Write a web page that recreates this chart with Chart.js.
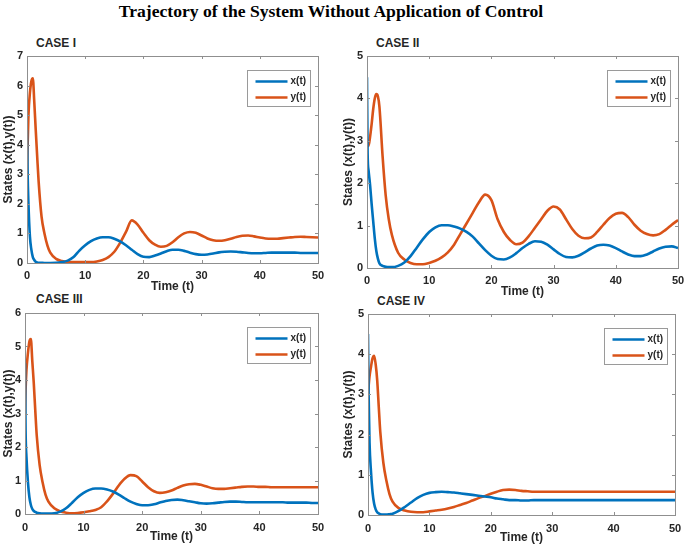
<!DOCTYPE html>
<html>
<head>
<meta charset="utf-8">
<script src="https://cdn.jsdelivr.net/npm/chart.js@4.4.0/dist/chart.umd.min.js"></script>
<style>
  body { margin: 0; background: #fff; }
  #page { position: relative; width: 685px; height: 546px; overflow: hidden; }
  canvas { position: absolute; }
  .title { position: absolute; left: 331px; top: 1px; transform: translateX(-50%); white-space: nowrap;
    font: bold 17.6px "Liberation Serif", "Times New Roman", serif; color: #000; }
  .case { position: absolute; font: bold 12px "Liberation Sans", Arial, sans-serif; color: #262626; white-space: nowrap; }
</style>
</head>
<body>
<div id="page">
  <div class="title">Trajectory of the System Without Application of Control</div>
  <div class="case" style="left:36px; top:36px;">CASE I</div>
  <div class="case" style="left:376px; top:36px;">CASE II</div>
  <div class="case" style="left:36px; top:292px;">CASE III</div>
  <div class="case" style="left:377px; top:294px;">CASE IV</div>
  <canvas id="c1" width="340" height="265" style="left:0px; top:30px;"></canvas>
  <canvas id="c2" width="345" height="270" style="left:340px; top:30px;"></canvas>
  <canvas id="c3" width="340" height="261" style="left:0px; top:285px;"></canvas>
  <canvas id="c4" width="345" height="261" style="left:340px; top:285px;"></canvas>
</div>
<script>
'use strict';

// time points (dense at the start, where things move fast)
const times = [0, 0.1, 0.25, 0.5, 0.75, 1, 1.25, 1.5, 1.75, 2, 2.5, 3, 3.5, 4,
  5, 6, 7, 8, 9, 10, 11, 12, 13, 14, 15, 16, 17, 18, 19, 20, 21, 22, 23, 24, 25, 26, 27, 28, 29,
  30, 31, 32, 33, 34, 35, 36, 37, 38, 39, 40, 41, 42, 43, 44, 45, 46, 47, 48, 49, 50];

const case1X = [4.5, 3.1, 2.0, 0.9, 0.45, 0.2, 0.1, 0.04, 0.02, 0.01, 0.005, 0, 0, 0,
  0.005, 0.03, 0.08, 0.2, 0.42, 0.6, 0.74, 0.83, 0.87, 0.87, 0.82, 0.73, 0.6, 0.45, 0.3,
  0.21, 0.2, 0.25, 0.32, 0.4, 0.45, 0.45, 0.41, 0.35, 0.3,
  0.28, 0.29, 0.32, 0.36, 0.38, 0.39, 0.38, 0.36, 0.34, 0.33,
  0.33, 0.34, 0.35, 0.35, 0.35, 0.35, 0.35, 0.34, 0.34, 0.34, 0.34];
const case1Y = [3.0, 3.9, 5.0, 5.75, 6.15, 6.25, 5.45, 4.5, 3.6, 2.75, 1.57, 1.0, 0.6, 0.35,
  0.14, 0.07, 0.04, 0.03, 0.03, 0.03, 0.03, 0.05, 0.1, 0.2, 0.38, 0.68, 1.05, 1.44, 1.3,
  1.02, 0.77, 0.62, 0.55, 0.58, 0.7, 0.87, 1.0, 1.05, 1.02,
  0.93, 0.83, 0.77, 0.75, 0.77, 0.82, 0.88, 0.92, 0.93, 0.9,
  0.86, 0.83, 0.82, 0.82, 0.84, 0.86, 0.88, 0.89, 0.88, 0.87, 0.86];

const case2X = [4.5, 2.7, 2.3, 1.95, 1.5, 1.1, 0.7, 0.4, 0.22, 0.11, 0.05, 0.03, 0.02, 0.02,
  0.05, 0.13, 0.28, 0.48, 0.68, 0.85, 0.96, 1.01, 1.01, 0.98, 0.93, 0.85, 0.74, 0.58, 0.42,
  0.29, 0.21, 0.2, 0.25, 0.35, 0.47, 0.57, 0.63, 0.62, 0.55,
  0.44, 0.33, 0.26, 0.25, 0.29, 0.37, 0.46, 0.53, 0.55, 0.53,
  0.47, 0.39, 0.32, 0.28, 0.28, 0.32, 0.39, 0.46, 0.5, 0.51, 0.47];
const case2Y = [3.0, 2.9, 2.88, 3.1, 3.4, 3.75, 4.0, 4.1, 4.05, 3.8, 2.65, 1.72, 1.15, 0.78,
  0.36, 0.2, 0.12, 0.09, 0.09, 0.12, 0.17, 0.25, 0.37, 0.55, 0.8, 1.05, 1.3, 1.55, 1.73,
  1.6, 1.15, 0.85, 0.66, 0.56, 0.6, 0.75, 0.95, 1.15, 1.35,
  1.45, 1.38, 1.15, 0.92, 0.76, 0.7, 0.72, 0.85, 1.02, 1.18,
  1.28, 1.3, 1.2, 1.02, 0.88, 0.8, 0.77, 0.8, 0.9, 1.02, 1.13];

const case3X = [4.5, 2.5, 1.7, 0.95, 0.5, 0.27, 0.15, 0.09, 0.06, 0.04, 0.02, 0.01, 0.01, 0.01,
  0.02, 0.07, 0.17, 0.33, 0.5, 0.63, 0.72, 0.76, 0.76, 0.73, 0.67, 0.58, 0.47, 0.37, 0.3,
  0.26, 0.26, 0.29, 0.34, 0.39, 0.42, 0.43, 0.41, 0.38, 0.35,
  0.32, 0.31, 0.32, 0.34, 0.36, 0.37, 0.37, 0.36, 0.35, 0.35,
  0.35, 0.35, 0.35, 0.35, 0.35, 0.34, 0.34, 0.34, 0.34, 0.33, 0.33];
const case3Y = [3.0, 3.7, 4.3, 4.8, 5.15, 5.22, 4.55, 3.9, 3.1, 2.35, 1.46, 0.95, 0.58, 0.37,
  0.17, 0.08, 0.04, 0.02, 0.03, 0.05, 0.08, 0.12, 0.2, 0.38, 0.6, 0.85, 1.05, 1.16, 1.13,
  0.97, 0.8, 0.68, 0.63, 0.65, 0.7, 0.78, 0.85, 0.89, 0.9,
  0.87, 0.82, 0.77, 0.75, 0.75, 0.77, 0.79, 0.81, 0.82, 0.82,
  0.81, 0.81, 0.8, 0.8, 0.8, 0.8, 0.8, 0.8, 0.8, 0.8, 0.8];

const case4X = [4.5, 3.0, 1.8, 1.05, 0.55, 0.28, 0.14, 0.07, 0.04, 0.02, 0.01, 0.01, 0.02, 0.03,
  0.1, 0.2, 0.31, 0.42, 0.5, 0.55, 0.57, 0.58, 0.57, 0.56, 0.54, 0.52, 0.5, 0.48, 0.46,
  0.44, 0.41, 0.39, 0.37, 0.37, 0.36, 0.36, 0.37, 0.37, 0.37,
  0.37, 0.37, 0.37, 0.37, 0.37, 0.37, 0.37, 0.37, 0.37, 0.37,
  0.37, 0.37, 0.37, 0.37, 0.37, 0.37, 0.37, 0.37, 0.37, 0.37, 0.37];
const case4Y = [3.0, 3.2, 3.45, 3.7, 3.9, 3.96, 3.75, 3.35, 2.7, 2.07, 1.3, 0.85, 0.52, 0.33,
  0.17, 0.11, 0.08, 0.07, 0.07, 0.09, 0.11, 0.13, 0.16, 0.2, 0.25, 0.3, 0.36, 0.42, 0.47,
  0.53, 0.58, 0.62, 0.63, 0.62, 0.6, 0.59, 0.58, 0.58, 0.58,
  0.58, 0.58, 0.58, 0.58, 0.58, 0.58, 0.58, 0.58, 0.58, 0.58,
  0.58, 0.58, 0.58, 0.58, 0.58, 0.58, 0.58, 0.58, 0.58, 0.58, 0.58];

const yMaxes = [7, 5, 6, 5];
const xMax = 50;

const BLUE = '#0072BD';
const ORANGE = '#D95319';
const AXIS_GRAY = '#8f8f8f';
const TEXT = '#262626';
const FONT = '"Liberation Sans", Arial, sans-serif';

function toPoints(values) {
  return values.map((v, i) => ({ x: times[i], y: v }));
}

// box around the plot, ticks pointing inwards, legend in the corner (matlab look)
const matlabBox = {
  id: 'matlabBox',
  afterDraw(chart) {
    const ctx = chart.ctx;
    const a = chart.chartArea;
    const xs = chart.scales.x;
    const ys = chart.scales.y;
    ctx.save();
    ctx.strokeStyle = AXIS_GRAY;
    ctx.lineWidth = 1;
    ctx.strokeRect(Math.round(a.left) + 0.5, Math.round(a.top) + 0.5,
      Math.round(a.right - a.left), Math.round(a.bottom - a.top));
    ctx.beginPath();
    const tl = 3;
    xs.ticks.forEach(t => {
      const px = Math.round(xs.getPixelForValue(t.value)) + 0.5;
      ctx.moveTo(px, a.bottom); ctx.lineTo(px, a.bottom - tl);
      ctx.moveTo(px, a.top); ctx.lineTo(px, a.top + tl);
    });
    ys.ticks.forEach(t => {
      const py = Math.round(ys.getPixelForValue(t.value)) + 0.5;
      ctx.moveTo(a.left, py); ctx.lineTo(a.left + tl, py);
      ctx.moveTo(a.right, py); ctx.lineTo(a.right - tl, py);
    });
    ctx.stroke();

    // legend
    const w = 63, h = 36;
    const lx = Math.round(a.right - 8 - w) + 0.5;
    const ly = Math.round(a.top + 14) + 0.5;
    ctx.fillStyle = '#fff';
    ctx.fillRect(lx, ly, w, h);
    ctx.strokeStyle = '#9a9a9a';
    ctx.strokeRect(lx, ly, w, h);
    ctx.font = 'bold 10px ' + FONT;
    ctx.textBaseline = 'middle';
    ctx.textAlign = 'left';
    chart.data.datasets.forEach((ds, i) => {
      const ry = ly + 11 + i * 16;
      ctx.strokeStyle = ds.borderColor;
      ctx.lineWidth = 2.6;
      ctx.beginPath();
      ctx.moveTo(lx + 8, ry);
      ctx.lineTo(lx + 40, ry);
      ctx.stroke();
      ctx.fillStyle = TEXT;
      ctx.fillText(ds.label, lx + 43, ry);
    });
    ctx.restore();
  }
};

function makeChart(id, xVals, yVals, yMax, lay) {
  return new Chart(document.getElementById(id), {
    type: 'line',
    data: {
      datasets: [{
        label: 'x(t)',
        data: toPoints(xVals),
        borderColor: BLUE,
        borderWidth: 2.6,
        pointRadius: 0,
        cubicInterpolationMode: 'monotone'
      }, {
        label: 'y(t)',
        data: toPoints(yVals),
        borderColor: ORANGE,
        borderWidth: 2.6,
        pointRadius: 0,
        cubicInterpolationMode: 'monotone'
      }]
    },
    options: {
      responsive: false,
      animation: false,
      devicePixelRatio: 1,
      layout: { padding: { top: lay.top, right: lay.right, left: 0, bottom: 0 } },
      plugins: {
        legend: { display: false },
        tooltip: { enabled: false },
        title: { display: false }
      },
      scales: {
        x: {
          type: 'linear',
          min: 0,
          max: xMax,
          grid: { display: false, drawTicks: false },
          border: { display: false },
          ticks: { stepSize: 10, padding: lay.xPad, color: TEXT, maxRotation: 0,
            font: { family: FONT, size: 11, weight: 'bold' } },
          title: { display: true, text: 'Time (t)', color: TEXT,
            padding: { top: 0, bottom: lay.titleBottom },
            font: { family: FONT, size: 12, weight: 'bold' } },
          afterFit(s) { s.height = lay.xHeight; s.paddingLeft = 0; s.paddingRight = 0; }
        },
        y: {
          min: 0,
          max: yMax,
          grid: { display: false, drawTicks: false },
          border: { display: false },
          ticks: { stepSize: 1, padding: 4, color: TEXT,
            font: { family: FONT, size: 11, weight: 'bold' } },
          title: { display: true, text: 'States (x(t),y(t))', color: TEXT,
            padding: { top: 1, bottom: 0 },
            font: { family: FONT, size: 12, weight: 'bold' } },
          afterFit(s) { s.width = lay.yWidth; s.paddingTop = 0; s.paddingBottom = 0; }
        }
      }
    },
    plugins: [matlabBox]
  });
}

makeChart('c1', case1X, case1Y, yMaxes[0], { top: 26, right: 22, yWidth: 27, xHeight: 32, xPad: 6, titleBottom: 1 });
makeChart('c2', case2X, case2Y, yMaxes[1], { top: 26, right: 7, yWidth: 27, xHeight: 32, xPad: 6, titleBottom: 1 });
makeChart('c3', case3X, case3Y, yMaxes[2], { top: 28, right: 22, yWidth: 25, xHeight: 32, xPad: 7, titleBottom: 2 });
makeChart('c4', case4X, case4Y, yMaxes[3], { top: 29, right: 10, yWidth: 28, xHeight: 31, xPad: 7, titleBottom: 1 });
</script>
</body>
</html>
